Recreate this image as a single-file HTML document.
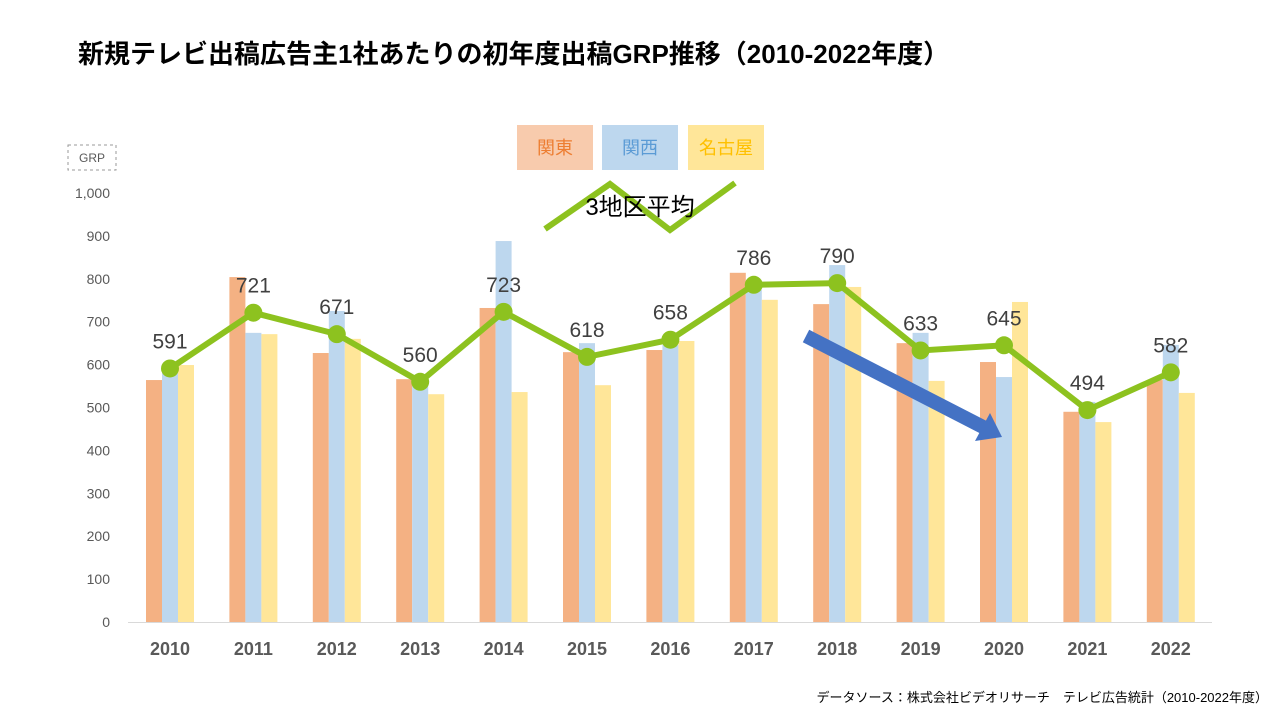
<!DOCTYPE html>
<html><head><meta charset="utf-8"><style>
body{margin:0;background:#fff;}
svg{display:block;font-family:"Liberation Sans","Noto Sans CJK JP",sans-serif;}
</style></head><body>
<svg id="c" width="1280" height="720">
<text x="78" y="63" font-size="26" font-weight="bold" fill="#000">新規テレビ出稿広告主1社あたりの初年度出稿GRP推移（2010-2022年度）</text>
<rect x="68" y="145" width="48" height="25" fill="none" stroke="#999" stroke-dasharray="3,3"/>
<text x="92" y="162" font-size="12" fill="#595959" text-anchor="middle">GRP</text>
<g>
<rect x="517" y="125" width="76" height="45" fill="#f8cbad"/>
<text x="555" y="154" font-size="18" fill="#ed7d31" text-anchor="middle">関東</text>
<rect x="602" y="125" width="76" height="45" fill="#bdd7ee"/>
<text x="640" y="154" font-size="18" fill="#5b9bd5" text-anchor="middle">関西</text>
<rect x="688" y="125" width="76" height="45" fill="#ffe699"/>
<text x="726" y="154" font-size="18" fill="#ffc000" text-anchor="middle">名古屋</text>
<polyline points="545,229 610,184 670,230 735,183" fill="none" stroke="#8dc21f" stroke-width="6"/>
<text x="640" y="215" font-size="24" fill="#000" text-anchor="middle">3地区平均</text>
</g>
<g id="plot"></g>
<text x="1268" y="702" font-size="13" fill="#000" text-anchor="end">データソース：株式会社ビデオリサーチ　テレビ広告統計（2010-2022年度）</text>
</svg>
<script>
const years=["2010","2011","2012","2013","2014","2015","2016","2017","2018","2019","2020","2021","2022"];
const kanto=[564,804,627,566,732,629,634,814,741,650,606,490,564];
const kansai=[590,674,725,550,888,650,646,774,832,674,571,513,646];
const nagoya=[599,671,660,531,536,552,655,751,781,562,746,466,534];
const average=[591,721,671,560,723,618,658,786,790,633,645,494,582];
const yTicks=[0,100,200,300,400,500,600,700,800,900,1000];
const NS="http://www.w3.org/2000/svg";
const g=document.getElementById('plot');
const y=v=>622-v*0.429;
const x=i=>170+i*83.4;
function el(t,a,p){const e=document.createElementNS(NS,t);for(const k in a)e.setAttribute(k,a[k]);(p||g).appendChild(e);return e;}
yTicks.forEach(v=>{const t=el('text',{x:110,y:y(v)+5,'font-size':14,fill:'#595959','text-anchor':'end'});t.textContent=v.toLocaleString('en-US');

});
const ax=el('line',{x1:128,x2:1212,y1:622.5,y2:622.5,stroke:'#d9d9d9'});


const series=[[kanto,'#f4b183',-16,'bar-kanto'],[kansai,'#bdd7ee',0,'bar-kansai'],[nagoya,'#ffe699',16,'bar-nagoya']];
years.forEach((yr,i)=>{
 series.forEach(([d,c,o,n])=>{const r=el('rect',{x:x(i)+o-8,y:y(d[i]),width:16,height:622-y(d[i]),fill:c});
 
 });
 const t=el('text',{x:x(i),y:655,'font-size':18,'font-weight':'bold',fill:'#595959','text-anchor':'middle'});t.textContent=yr;
 
 
});
const ar=el('line',{x1:806,y1:336,x2:985,y2:428,stroke:'#4472c4','stroke-width':14});


const ah=el('polygon',{points:'1002,437 975,441 990,413',fill:'#4472c4'});


const pl=el('polyline',{points:average.map((v,i)=>x(i)+','+y(v)).join(' '),fill:'none',stroke:'#8dc21f','stroke-width':6});


average.forEach((v,i)=>{
 const c=el('circle',{cx:x(i),cy:y(v),r:9,fill:'#8dc21f'});
 
 
 const t=el('text',{x:x(i),y:y(v)-20,'font-size':21,fill:'#404040','text-anchor':'middle'});t.textContent=v;
 
 
});
</script>
</body></html>
